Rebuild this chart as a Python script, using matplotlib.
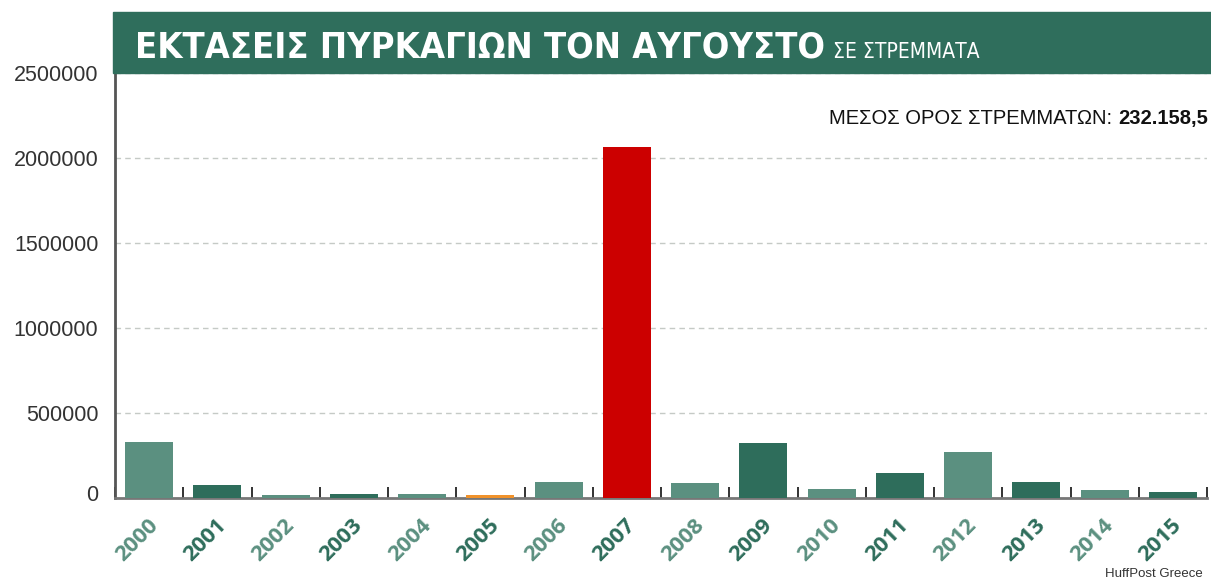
import matplotlib.pyplot as plt
from matplotlib.patches import Rectangle
import matplotlib.transforms as mtransforms
import numpy as np

# burnt area in August, in stremmata
years = ["2000", "2001", "2002", "2003", "2004", "2005", "2006", "2007",
         "2008", "2009", "2010", "2011", "2012", "2013", "2014", "2015"]
area = [330000, 76000, 17500, 23000, 25000, 15600, 95600, 2065000,
        88000, 325000, 51000, 146000, 273000, 94000, 45000, 37000]
average_label = "232.158,5"

light = "#5b9080"
dark = "#2e6d5b"
bar_colors = [light, dark, light, dark, light, "#f0922b", light, "#cc0000",
              light, dark, light, dark, light, dark, light, dark]
label_colors = [light, dark, light, dark, light, dark, light, dark,
                light, dark, light, dark, light, dark, light, dark]

W, H = 1211, 579
fig = plt.figure(figsize=(W / 100, H / 100), dpi=100)
ax = fig.add_axes([115 / W, 1 - 498 / H, (1207 - 115) / W, (498 - 73) / H])

x = np.arange(len(years))
ax.bar(x, area, width=0.7, color=bar_colors, zorder=3)

ax.set_xlim(-0.5, len(years) - 0.5)
ax.set_ylim(0, 2500000)
ax.set_yticks([0, 500000, 1000000, 1500000, 2000000, 2500000])
ax.set_yticklabels(["0", "500000", "1000000", "1500000", "2000000", "2500000"],
                   fontsize=15.5, color="#333333", family="Liberation Sans")
ax.tick_params(axis="y", length=0, pad=12)
zero_lab = ax.get_yticklabels()[0]
zero_lab.set_transform(zero_lab.get_transform()
                       + mtransforms.ScaledTranslation(0, 5 / 100, fig.dpi_scale_trans))

ax.grid(axis="y", color="#c5cac6", linestyle=(0, (4, 3)), linewidth=1, zorder=0)

# labels at bar centres, small inward ticks at the bar boundaries
ax.set_xticks(x)
ax.set_xticklabels(years, rotation=45, ha="right", fontsize=16,
                   fontweight="bold", family="Open Sans")
ax.set_xticks(np.arange(len(years) + 1) - 0.5, minor=True)
ax.tick_params(axis="x", which="major", length=0, pad=12)
ax.tick_params(axis="x", which="minor", direction="in", length=8,
               width=1.4, color="#333333")
shift = mtransforms.ScaledTranslation(13 / 100, 0, fig.dpi_scale_trans)
for lab, c in zip(ax.get_xticklabels(), label_colors):
    lab.set_color(c)
    lab.set_transform(lab.get_transform() + shift)

for s in ["top", "right"]:
    ax.spines[s].set_visible(False)
ax.spines["left"].set_color("#555555")
ax.spines["left"].set_linewidth(2)
ax.spines["bottom"].set_color("#777777")
ax.spines["bottom"].set_linewidth(2)

# header banner
fig.patches.append(Rectangle((113 / W, 1 - 73 / H), (W - 113) / W, 61 / H,
                             transform=fig.transFigure, color="#2f6e5c",
                             zorder=0))
title = fig.text(135 / W, 1 - 58 / H, "ΕΚΤΑΣΕΙΣ ΠΥΡΚΑΓΙΩΝ ΤΟΝ ΑΥΓΟΥΣΤΟ",
                 color="white", fontsize=26, fontweight="bold",
                 family="DejaVu Sans", fontstretch="condensed", va="baseline")
fig.canvas.draw()
title_end = title.get_window_extent().x1
fig.text((title_end + 8) / W, 1 - 58 / H, "ΣΕ ΣΤΡΕΜΜΑΤΑ", color="white",
         fontsize=15, family="DejaVu Sans", fontstretch="condensed",
         va="baseline")

# average annotation, bold number at the right
num = fig.text(1208 / W, 1 - 128 / H, average_label, fontsize=14.5,
               fontweight="bold", family="Liberation Sans", color="#111111",
               ha="right", va="bottom")
ax.annotate("ΜΕΣΟΣ ΟΡΟΣ ΣΤΡΕΜΜΑΤΩΝ: ", xy=(0, 0), xycoords=num,
            fontsize=14.5, family="Liberation Sans", color="#111111",
            ha="right", va="bottom", annotation_clip=False)

fig.text(1203 / W, 1 - 577 / H, "HuffPost Greece", fontsize=9.5,
         family="Liberation Sans", color="#333333", ha="right", va="baseline")

fig.savefig("out.png", dpi=100)
